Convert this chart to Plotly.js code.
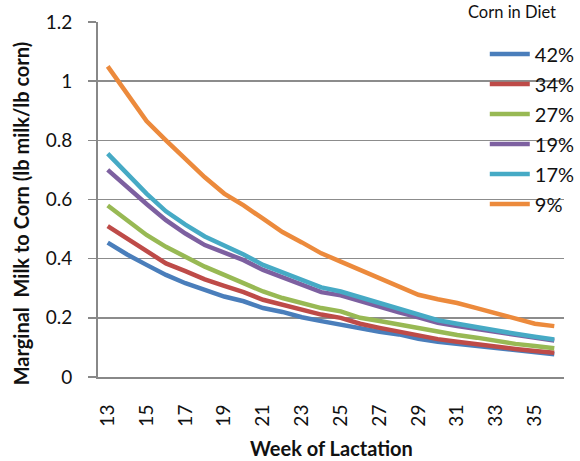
<!DOCTYPE html>
<html>
<head>
<meta charset="utf-8">
<script src="https://cdn.plot.ly/plotly-3.0.1.min.js"></script>
<style>
html,body{margin:0;padding:0;background:#fff;}
#chart{width:580px;height:461px;}
</style>
</head>
<body>
<div id="chart"></div>
<script>
var weeks = [13,14,15,16,17,18,19,20,21,22,23,24,25,26,27,28,29,30,31,32,33,34,35,36];
var tickWeeks = [13,15,17,19,21,23,25,27,29,31,33,35];
var tickLabels = ["13","15","17","19","21","23","25","27","29","31","33","35"];
var seriesNames = ["42%","34%","27%","19%","17%","9%"];

var corn42 = [0.454,0.414,0.379,0.345,0.317,0.295,0.272,0.256,0.233,0.220,0.202,0.189,0.176,0.164,0.153,0.144,0.129,0.119,0.112,0.103,0.096,0.090,0.085,0.077];
var corn34 = [0.510,0.468,0.429,0.384,0.358,0.330,0.308,0.287,0.261,0.244,0.228,0.211,0.200,0.180,0.166,0.153,0.140,0.128,0.119,0.110,0.101,0.095,0.088,0.082];
var corn27 = [0.580,0.530,0.480,0.440,0.407,0.373,0.345,0.317,0.289,0.267,0.250,0.233,0.222,0.200,0.189,0.177,0.164,0.153,0.142,0.133,0.121,0.112,0.105,0.097];
var corn19 = [0.700,0.640,0.585,0.530,0.485,0.446,0.420,0.395,0.362,0.336,0.311,0.287,0.276,0.256,0.239,0.219,0.202,0.183,0.172,0.162,0.150,0.140,0.130,0.123];
var corn17 = [0.755,0.685,0.620,0.560,0.515,0.475,0.445,0.414,0.379,0.354,0.328,0.303,0.289,0.269,0.250,0.230,0.211,0.192,0.180,0.168,0.157,0.146,0.136,0.127];
var corn9  = [1.050,0.960,0.865,0.800,0.737,0.675,0.620,0.580,0.535,0.490,0.455,0.418,0.390,0.362,0.334,0.306,0.278,0.263,0.250,0.233,0.216,0.197,0.180,0.172];

var allSeries = [corn42, corn34, corn27, corn19, corn17, corn9];
var colors = ["#4A7EBB","#BE4B48","#98B954","#7D60A0","#46AAC5","#EC8A3C"];
var FONT = "Lato, 'Open Sans', sans-serif";

var traces = allSeries.map(function(vals, i){
  return {
    x: weeks, y: vals, type: "scatter", mode: "lines",
    name: seriesNames[i], legendgroup: "g"+i,
    line: {color: colors[i], width: 4.5}
  };
});

var layout = {
  width: 580, height: 461,
  margin: {l: 98, r: 0, t: 22, b: 84, pad: 0},
  paper_bgcolor: "#fff", plot_bgcolor: "#fff",
  font: {family: FONT, color: "#111", size: 19},
  showlegend: true,
  legend: {
    x: 0.83, xanchor: "left", y: 0.965, yanchor: "top",
    bgcolor: "rgba(255,255,255,0)", borderwidth: 0,
    font: {family: FONT, size: 20, color: "#111"},
    tracegroupgap: 1, itemwidth: 40
  },
  shapes: [
    {type: "rect", xref: "paper", yref: "paper", x0: 0.79, x1: 1.0, y0: 0.44, y1: 0.975,
     fillcolor: "#fff", line: {width: 0}, layer: "between"}
  ],
  xaxis: {
    range: [12.5, 36.5], tickmode: "array", tickvals: tickWeeks, ticktext: tickLabels,
    tickangle: -90, showgrid: false, zeroline: false,
    showline: true, linecolor: "#888", linewidth: 2,
    ticks: "", ticklabelstandoff: 18, tickfont: {family: FONT, size: 19, color: "#111"}
  },
  yaxis: {
    range: [0, 1.2], tickmode: "array", tickvals: [0,0.2,0.4,0.6,0.8,1,1.2],
    ticktext: ["0","0.2","0.4","0.6","0.8","1","1.2"],
    showgrid: true, gridcolor: "#8c8c8c", gridwidth: 1.5, zeroline: false,
    showline: true, linecolor: "#888", linewidth: 2,
    ticks: "outside", ticklen: 8, tickcolor: "#888", tickwidth: 1.5,
    ticklabelstandoff: 12,
    tickfont: {family: FONT, size: 19, color: "#111"}
  },
  annotations: [
    {text: "<b>Marginal  Milk to Corn (lb milk/lb corn)</b>", textangle: -90,
     xref: "paper", yref: "paper", x: -0.166, y: 0.46, xanchor: "center", yanchor: "middle",
     showarrow: false, font: {family: FONT, size: 20, color: "#111"}},
    {text: "<b>Week of Lactation</b>", xref: "paper", yref: "paper", x: 0.5, y: -0.2,
     xanchor: "center", yanchor: "middle", showarrow: false,
     font: {family: FONT, size: 20, color: "#111"}},
    {text: "Corn in Diet", xref: "paper", yref: "paper", x: 0.988, y: 1.027,
     xanchor: "right", yanchor: "middle", showarrow: false,
     font: {family: FONT, size: 16.5, color: "#111"}}
  ]
};

Plotly.newPlot("chart", traces, layout, {displayModeBar: false, staticPlot: true});
</script>
</body>
</html>
